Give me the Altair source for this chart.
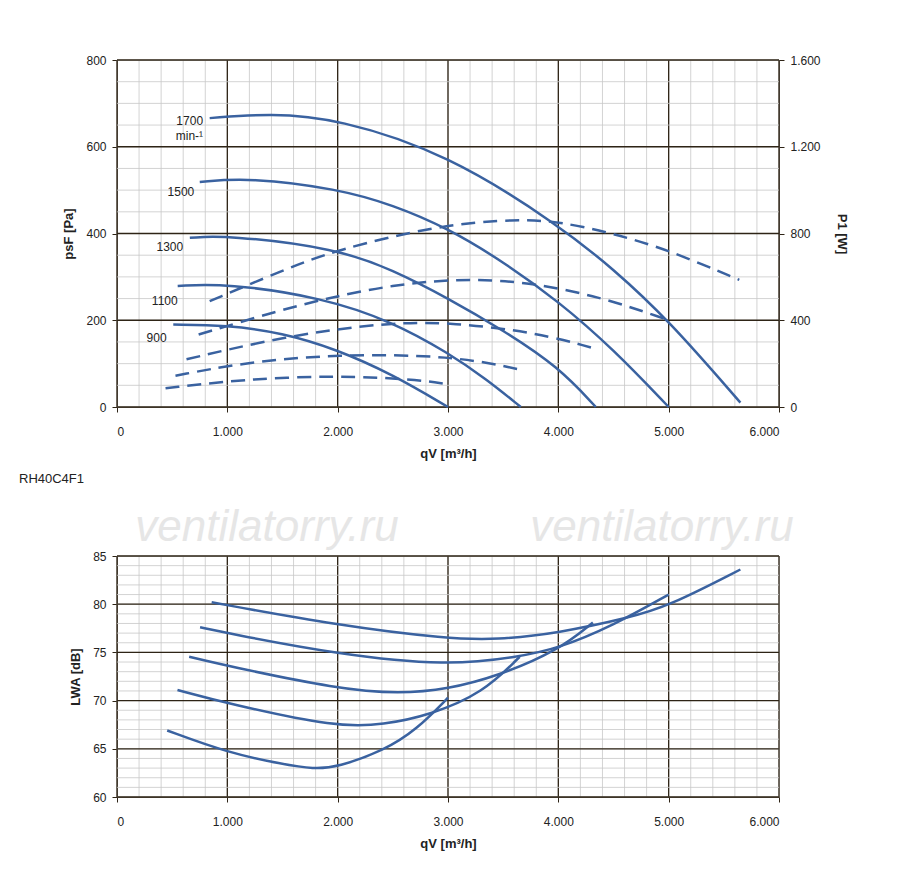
import altair as alt
import pandas as pd

SPEEDS = ["1700", "1500", "1300", "1100", "900"]

# static pressure curves: (q m3/h, psF Pa)
PRESSURE = {
    "1700": [(840, 666), (1390, 677), (2000, 665), (3000, 583), (4000, 420), (4500, 318), (5000, 200), (5650, 10)],
    "1500": [(750, 519), (1200, 529), (2000, 503), (2500, 466), (3000, 412), (3500, 335), (4000, 244), (4500, 133), (5000, 0)],
    "1300": [(660, 390), (1000, 396), (2000, 365), (2500, 316), (3000, 251), (3500, 177), (4000, 93), (4340, 0)],
    "1100": [(550, 279), (990, 285), (1870, 252), (2500, 196), (3000, 125), (3350, 64), (3660, 0)],
    "900": [(510, 190), (990, 189), (1500, 171), (1980, 134), (2500, 75), (3000, 0)],
}

# power input curves: (q m3/h, P1 W)
POWER = {
    "1700": [(840, 488), (1500, 630), (1980, 724), (2930, 840), (3620, 866), (4000, 856), (4500, 800), (5000, 724), (5640, 586)],
    "1500": [(740, 334), (1500, 450), (1980, 510), (2500, 562), (3010, 588), (3620, 586), (4380, 510), (5000, 400)],
    "1300": [(630, 220), (1520, 326), (2440, 390), (3050, 390), (3810, 342), (4300, 274)],
    "1100": [(530, 144), (1140, 204), (1980, 244), (3050, 237), (3640, 174)],
    "900": [(440, 86), (1140, 128), (1980, 145), (2670, 129), (2990, 106)],
}

# sound power curves: (q m3/h, LWA dB)
SOUND = {
    "1700": [(858, 80.2), (2000, 77.8), (3000, 76.4), (3440, 76.3), (4000, 77.0), (4645, 78.6), (5000, 79.8), (5650, 83.6)],
    "1500": [(753, 77.6), (1000, 77.0), (2000, 74.8), (3000, 73.6), (3620, 74.5), (4000, 75.4), (4500, 77.8), (5000, 81.0)],
    "1300": [(654, 74.55), (1000, 73.6), (2000, 71.2), (2566, 70.7), (3000, 71.2), (3440, 72.5), (4000, 75.2), (4313, 78.1)],
    "1100": [(548, 71.1), (1000, 69.7), (2000, 67.2), (2416, 67.5), (2837, 68.5), (3319, 70.8), (3650, 74.55)],
    "900": [(455, 66.9), (1000, 64.6), (1500, 63.4), (1783, 62.9), (2000, 63.1), (2416, 64.8), (2717, 67.0), (3000, 70.3)],
}

LABELS = ["1700", "1500", "1300", "1100", "900"]
LABEL_Q = [780, 700, 600, 550, 450]
LABEL_P = [660, 495, 370, 245, 160]

BLUE = "#3a62a0"
DARK = "#2e2416"
MINOR = "#c8c8c8"
FMT = "replace(format(datum.value, ',.0f'), ',', '.')"


def curves(d, yname):
    rows = []
    for s, pts in d.items():
        for q, v in pts:
            rows.append({"speed": s, "q": q, yname: v})
    return pd.DataFrame(rows)


def ax(title, values, orient=None, fmt=False, lp=6, tp=10):
    kw = dict(title=title, values=values, grid=False, titleFontWeight="bold", titleFontSize=13,
              labelFontSize=12, labelColor="#222", titleColor="#222", domainColor=DARK, tickColor=DARK,
              labelPadding=lp, titlePadding=tp)
    if orient:
        kw["orient"] = orient
    if fmt:
        kw["labelExpr"] = FMT
    return alt.Axis(**kw)


def grid(ydom, yminor, ymajor, xscale, yscale, xaxis, yaxis):
    xs_minor = pd.DataFrame({"v": list(range(0, 6001, 200))})
    xs_major = pd.DataFrame({"v": list(range(0, 6001, 1000))})
    n_min = int((ydom[1] - ydom[0]) / yminor)
    n_maj = int((ydom[1] - ydom[0]) / ymajor)
    ys_minor = pd.DataFrame({"v": [ydom[0] + i * yminor for i in range(n_min + 1)]})
    ys_major = pd.DataFrame({"v": [ydom[0] + i * ymajor for i in range(n_maj + 1)]})
    layers = []
    for df, col, w in [(xs_minor, MINOR, 0.8), (xs_major, DARK, 1.3)]:
        layers.append(alt.Chart(df).mark_rule(color=col, strokeWidth=w).encode(
            x=alt.X("v:Q", scale=xscale, axis=xaxis)))
    for df, col, w in [(ys_minor, MINOR, 0.8), (ys_major, DARK, 1.3)]:
        layers.append(alt.Chart(df).mark_rule(color=col, strokeWidth=w).encode(
            y=alt.Y("v:Q", scale=yscale, axis=yaxis)))
    return alt.layer(*layers)


xsc = alt.Scale(domain=[0, 6000], nice=False)
xaxis = ax("qV [m³/h]", list(range(0, 6001, 1000)), fmt=True, lp=14, tp=10)

# top panel
psc = alt.Scale(domain=[0, 800], nice=False)
wsc = alt.Scale(domain=[0, 1600], nice=False)
paxis = ax("psF [Pa]", [0, 200, 400, 600, 800])
pg = grid((0, 800), 50, 200, xsc, psc, xaxis, paxis)
pres = alt.Chart(curves(PRESSURE, "p")).mark_line(color=BLUE, strokeWidth=2.5, interpolate="basis").encode(
    x=alt.X("q:Q", scale=xsc, axis=xaxis),
    y=alt.Y("p:Q", scale=psc, axis=paxis),
    detail="speed:N")
lab = alt.Chart(pd.DataFrame({"q": LABEL_Q, "p": LABEL_P, "t": LABELS})).mark_text(
    fontSize=12, color="#222", align="right").encode(
    x=alt.X("q:Q", scale=xsc, axis=xaxis), y=alt.Y("p:Q", scale=psc, axis=paxis), text="t:N")
unit = alt.Chart(pd.DataFrame({"q": [780], "p": [625], "t": ["min-¹"]})).mark_text(
    fontSize=12, color="#222", align="right").encode(
    x=alt.X("q:Q", scale=xsc, axis=xaxis), y=alt.Y("p:Q", scale=psc, axis=paxis), text="t:N")
left = alt.layer(pg, pres, lab, unit)
power = alt.Chart(curves(POWER, "w")).mark_line(color=BLUE, strokeWidth=2.5, strokeDash=[14, 8],
                                                interpolate="basis").encode(
    x=alt.X("q:Q", scale=xsc, axis=xaxis),
    y=alt.Y("w:Q", scale=wsc, axis=ax("P1 [W]", [0, 400, 800, 1200, 1600], orient="right", fmt=True, tp=14)),
    detail="speed:N")
name = alt.Chart(pd.DataFrame({"t": ["RH40C4F1"]})).mark_text(fontSize=13, align="left", color="#222").encode(
    text="t:N", x=alt.value(-98), y=alt.value(72 + 347))
top = alt.layer(left, power, name).resolve_scale(y="independent").properties(width=662, height=347)

# bottom panel
lsc = alt.Scale(domain=[60, 85], nice=False)
laxis = ax("LWA [dB]", [60, 65, 70, 75, 80, 85])
lg = grid((60, 85), 1, 5, xsc, lsc, xaxis, laxis)
snd = alt.Chart(curves(SOUND, "l")).mark_line(color=BLUE, strokeWidth=2.5, interpolate="basis").encode(
    x=alt.X("q:Q", scale=xsc, axis=xaxis),
    y=alt.Y("l:Q", scale=lsc, axis=laxis),
    detail="speed:N")
wm = alt.Chart(pd.DataFrame({"t": ["ventilatorry.ru", "ventilatorry.ru"], "x": [150, 545]})).mark_text(
    fontSize=44, fontStyle="italic", color="#e6e6e6", align="center").encode(
    text="t:N", x=alt.X("x:Q", scale=None), y=alt.value(-28))
bottom = alt.layer(lg, snd, wm).properties(width=662, height=241)

chart = alt.vconcat(top, bottom, spacing=18).properties(
    padding={"left": 10, "top": 45, "right": 5, "bottom": 5}).configure_view(
    stroke=None).configure(font="Liberation Sans")
chart.save("out.html", embed_options={"renderer": "svg", "actions": False})
